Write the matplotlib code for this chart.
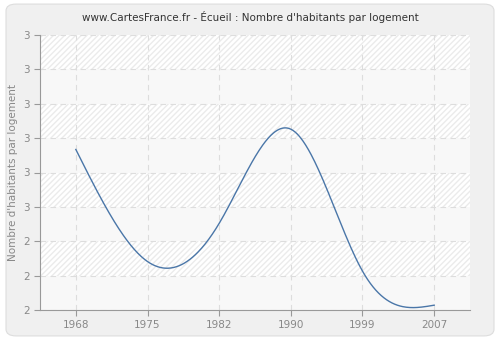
import numpy as np
import matplotlib
matplotlib.use("Agg")
from matplotlib import pyplot as plt
from matplotlib.patches import FancyBboxPatch

years = ["1968", "1975", "1982", "1990", "1999", "2007"]
values = [2.667, 2.341, 2.452, 2.726, 2.313, 2.214]
y_ticks = [2.2, 2.3, 2.4, 2.5, 2.6, 2.7, 2.8, 2.9, 3.0]


def natural_spline(x, y, xs):
    # plain natural cubic spline, no scipy needed
    x = np.asarray(x, float)
    y = np.asarray(y, float)
    n = len(x)
    h = np.diff(x)
    A = np.zeros((n, n))
    b = np.zeros(n)
    A[0, 0] = 1
    A[-1, -1] = 1
    for i in range(1, n - 1):
        A[i, i - 1] = h[i - 1]
        A[i, i] = 2 * (h[i - 1] + h[i])
        A[i, i + 1] = h[i]
        b[i] = 3 * ((y[i + 1] - y[i]) / h[i] - (y[i] - y[i - 1]) / h[i - 1])
    c = np.linalg.solve(A, b)
    out = np.zeros_like(xs)
    for k, xv in enumerate(xs):
        i = min(max(np.searchsorted(x, xv) - 1, 0), n - 2)
        dx = xv - x[i]
        bi = (y[i + 1] - y[i]) / h[i] - h[i] * (2 * c[i] + c[i + 1]) / 3
        di = (c[i + 1] - c[i]) / (3 * h[i])
        out[k] = y[i] + bi * dx + c[i] * dx ** 2 + di * dx ** 3
    return out


pos = np.arange(len(years))
xs = np.linspace(pos[0], pos[-1], 400)
ys = natural_spline(pos, values, xs)

fig = plt.figure(figsize=(5, 3.4), dpi=100)
fig.patch.set_facecolor("white")
bg = FancyBboxPatch((0.012, 0.012), 0.976, 0.976, boxstyle="round,pad=0,rounding_size=0.02",
                    transform=fig.transFigure, facecolor="#f0f0f0", edgecolor="#dddddd", lw=0.8,
                    zorder=-10)
fig.patches.append(bg)

ax = fig.add_axes([40 / 500, 30 / 340, 430 / 500, 275 / 340])
ax.set_zorder(1)
ax.set_facecolor("white")
ax.patch.set_hatch("//////")
ax.patch.set_edgecolor("#ebebeb")
ax.patch.set_linewidth(0)
for i in range(len(y_ticks) - 1):
    if i % 2 == 0:
        ax.axhspan(y_ticks[i], y_ticks[i + 1], facecolor="#f8f8f8", edgecolor="none", zorder=0)

ax.plot(xs, ys, color="#4a76a8", lw=1, zorder=3)

ax.set_xlim(-0.5, 5.5)
ax.set_ylim(2.2, 3.0)
ax.set_xticks(pos)
ax.set_xticklabels(years)
ax.set_yticks(y_ticks)
ax.set_yticklabels([str(int(np.floor(v + 0.5 + 1e-9))) for v in y_ticks])
ax.grid(True, color="#dddddd", ls=(0, (5, 4)), lw=0.8, zorder=1)
ax.set_axisbelow(True)

for s in ["top", "right"]:
    ax.spines[s].set_visible(False)
for s in ["left", "bottom"]:
    ax.spines[s].set_color("#999999")
ax.tick_params(colors="#999999", labelcolor="#888888", labelsize=7.5, length=4, width=0.8)

ax.set_ylabel("Nombre d'habitants par logement", color="#888888", fontsize=7.5)
ax.yaxis.set_label_coords(-22 / 430, 0.5)
fig.text(0.5, 0.95, "www.CartesFrance.fr - Écueil : Nombre d'habitants par logement",
         ha="center", va="center", fontsize=7.5, color="#333333")

fig.savefig("out.png", dpi=100)
